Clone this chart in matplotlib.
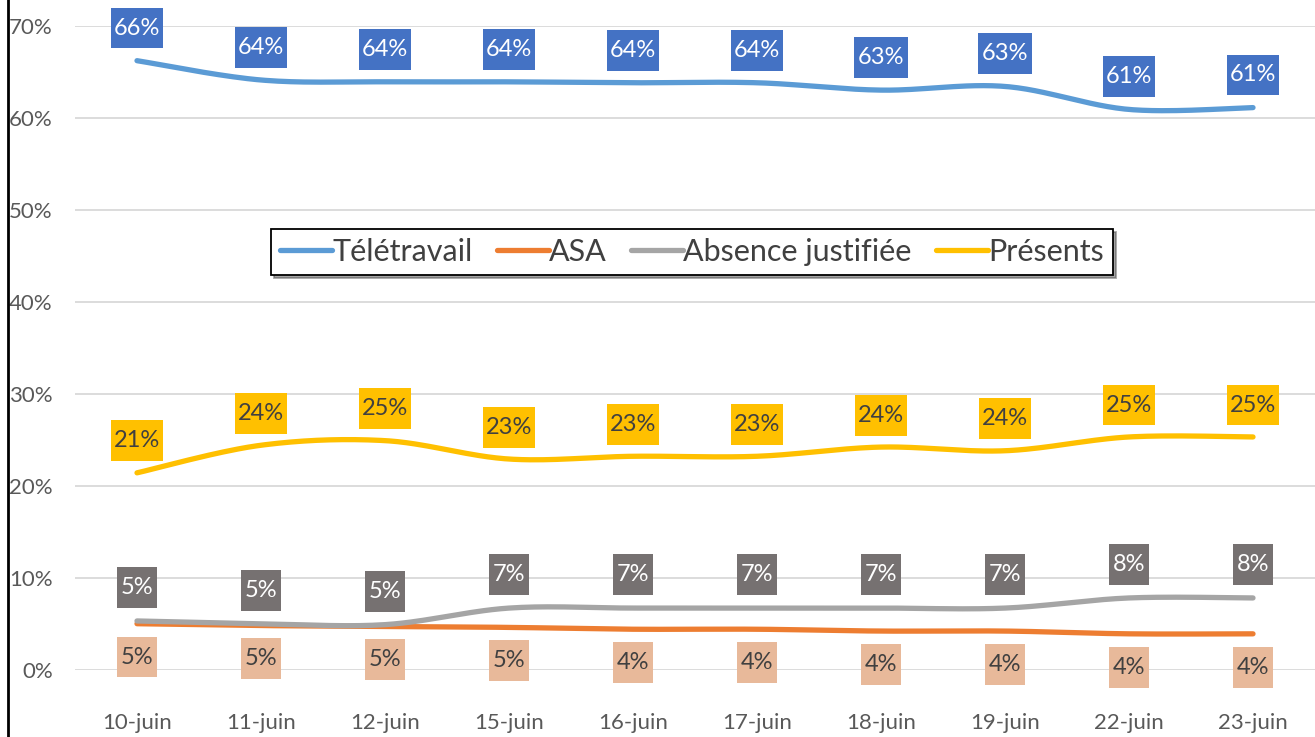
import numpy as np
import matplotlib
matplotlib.use("Agg")
import matplotlib.pyplot as plt
from matplotlib.path import Path

plt.rcParams['font.family'] = ['Lato', 'DejaVu Sans']

jours = ["10-juin", "11-juin", "12-juin", "15-juin", "16-juin",
         "17-juin", "18-juin", "19-juin", "22-juin", "23-juin"]
teletravail = [0.662, 0.641, 0.639, 0.639, 0.638, 0.638, 0.630, 0.634, 0.609, 0.611]
asa = [0.050, 0.048, 0.047, 0.046, 0.044, 0.044, 0.042, 0.042, 0.039, 0.039]
absence = [0.053, 0.050, 0.049, 0.067, 0.067, 0.067, 0.067, 0.067, 0.078, 0.078]
presents = [0.214, 0.244, 0.249, 0.229, 0.232, 0.232, 0.242, 0.238, 0.253, 0.253]


def lisse(y, n=30):
    # courbe lissée façon Excel (Bezier / Catmull-Rom)
    y = np.asarray(y, float)
    x = np.arange(len(y), dtype=float)
    xs, ys = [], []
    for i in range(len(y) - 1):
        p0 = (x[max(i - 1, 0)], y[max(i - 1, 0)])
        p1 = (x[i], y[i])
        p2 = (x[i + 1], y[i + 1])
        p3 = (x[min(i + 2, len(y) - 1)], y[min(i + 2, len(y) - 1)])
        c1 = (p1[0] + (p2[0] - p0[0]) / 6, p1[1] + (p2[1] - p0[1]) / 6)
        c2 = (p2[0] - (p3[0] - p1[0]) / 6, p2[1] - (p3[1] - p1[1]) / 6)
        t = np.linspace(0, 1, n)
        for k in range(2):
            pts = [p1[k], c1[k], c2[k], p2[k]]
            v = ((1 - t) ** 3 * pts[0] + 3 * (1 - t) ** 2 * t * pts[1]
                 + 3 * (1 - t) * t ** 2 * pts[2] + t ** 3 * pts[3])
            (xs if k == 0 else ys).append(v)
    return np.concatenate(xs), np.concatenate(ys)


def boite(x0, y0, width, height, mutation_size):
    # rectangle avec marge horizontale et verticale différentes
    px = 0.14 * mutation_size
    py = 0.42 * mutation_size
    x0, y0 = x0 - px, y0 - py
    x1, y1 = x0 + width + 2 * px, y0 + height + 2 * py
    return Path([(x0, y0), (x1, y0), (x1, y1), (x0, y1), (x0, y0)], closed=True)


fig = plt.figure(figsize=(13.15, 7.37), dpi=100)
ax = fig.add_axes([75 / 1315, 0.0913, 1 - 75 / 1315, 0.9651 - 0.0913])

series = [
    ("Télétravail", teletravail, "#5B9BD5", "#4472C4", "white", 23.5),
    ("ASA", asa, "#ED7D31", "#E8B99A", "#404040", -24),
    ("Absence justifiée", absence, "#A5A5A5", "#767171", "white", 24),
    ("Présents", presents, "#FFC000", "#FFC000", "#404040", 23),
]

for nom, vals, c, cbox, ctxt, dy in series:
    xs, ys = lisse(vals)
    ax.plot(xs, ys, color=c, lw=3.8, solid_capstyle='round', label=nom, zorder=3)
    for i, v in enumerate(vals):
        ax.annotate(f"{round(v * 100):.0f}%", (i, v), xytext=(0, dy),
                    textcoords='offset points', ha='center', va='center',
                    fontsize=17, color=ctxt, zorder=5, annotation_clip=False,
                    bbox=dict(boxstyle=boite, fc=cbox, ec='none'))

ax.set_xlim(-0.5, 9.5)
ax.set_ylim(0, 0.7)
ax.set_yticks(np.arange(0, 0.71, 0.1))
ax.set_yticklabels([f"{int(round(t * 100))}%" for t in np.arange(0, 0.71, 0.1)])
ax.set_xticks(range(len(jours)))
ax.set_xticklabels(jours)
ax.tick_params(axis='both', length=0, labelsize=16, colors='#595959')
ax.tick_params(axis='x', pad=31)
ax.tick_params(axis='y', pad=16)
ax.grid(axis='y', color='#D9D9D9', lw=1.3, zorder=0)
for s in ax.spines.values():
    s.set_visible(False)

# légende au centre (x, y en pixels de la figure)
leg = ax.legend(loc='center', bbox_to_anchor=(692 / 1315, 1 - 252 / 737),
                bbox_transform=fig.transFigure, ncol=4, fontsize=22,
                frameon=True, fancybox=False, shadow=True, handlelength=1.7,
                handletextpad=0.0, columnspacing=0.8, borderpad=0.3,
                labelcolor='#404040')
leg.get_frame().set_edgecolor('black')
leg.get_frame().set_linewidth(1.3)
for h in leg.get_lines():
    h.set_linewidth(3.8)

fig.add_artist(plt.Line2D([8 / 1315, 8 / 1315], [0, 1], color='black', lw=2,
                          transform=fig.transFigure))

fig.savefig("out.png", dpi=100)
